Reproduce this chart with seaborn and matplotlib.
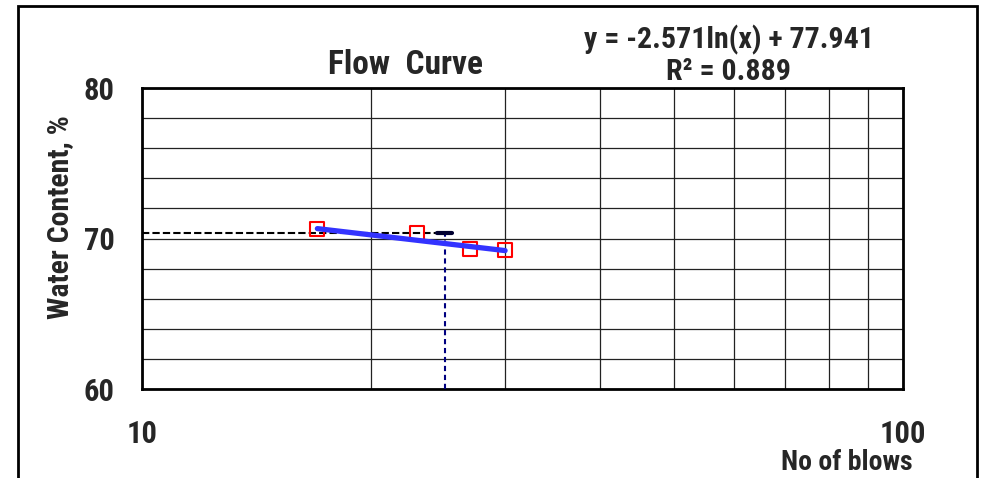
import matplotlib
matplotlib.use("Agg")
import matplotlib.pyplot as plt
from matplotlib.patches import Rectangle
from matplotlib.ticker import FixedLocator, NullFormatter
import numpy as np
import pandas as pd
import seaborn as sns
from matplotlib import font_manager

# ---- data ----
blows = [17, 23, 27, 30]
water_content = [70.63, 70.37, 69.30, 69.24]
fit_a = -2.571
fit_b = 77.941
fit_r2 = 0.889
ll_blows = 25
ll_water = 70.37
x_ticks = [10, 100]
y_ticks = [60, 70, 80]

sns.set_style("white")
names = {f.name for f in font_manager.fontManager.ttflist}
fam = [f for f in ["Liberation Sans Narrow", "Roboto Condensed", "Open Sans Condensed"] if f in names]
plt.rcParams['font.family'] = fam + ['Liberation Sans', 'DejaVu Sans']
plt.rcParams['font.weight'] = 'bold'

fig = plt.figure(figsize=(9.82, 4.78), dpi=100)
ax = fig.add_axes([142/982, 1-389/478, (903-142)/982, (389-88)/478])
ax.set_xscale('log')
ax.set_xlim(10, 100)
ax.set_ylim(60, 80)

# grid
ax.xaxis.set_minor_locator(FixedLocator([20, 30, 40, 50, 60, 70, 80, 90]))
ax.xaxis.set_minor_formatter(NullFormatter())
ax.yaxis.set_minor_locator(FixedLocator(list(range(62, 80, 2))))
ax.grid(True, which='both', color='#222222', linewidth=0.9)
ax.set_axisbelow(True)
ax.tick_params(which='minor', length=0)

# reference dashed lines
ax.plot([10, ll_blows], [ll_water, ll_water], ls=(0, (3.5, 1.5)), color='black', lw=1.5, zorder=3)
ax.plot([ll_blows, ll_blows], [60, ll_water], ls=(0, (2.5, 1.8)), color='#000080', lw=1.5, zorder=3)
ax.plot([ll_blows * 0.978, ll_blows * 1.022], [ll_water, ll_water], color='#000030', lw=3, zorder=3,
        solid_capstyle='round')

# points
df = pd.DataFrame({"blows": blows, "wc": water_content})
sns.scatterplot(data=df, x="blows", y="wc", marker='s', s=100, facecolor='none',
                edgecolor='red', linewidth=1.5, ax=ax, zorder=4)

# trendline
tx = np.array([min(blows), max(blows)])
ty = fit_a * np.log(tx) + fit_b
sns.lineplot(x=tx, y=ty, color='#3333FF', linewidth=3.8, ax=ax, zorder=5)

ax.set_xticks(x_ticks)
ax.set_xticklabels([str(v) for v in x_ticks], fontsize=22, fontweight='bold')
ax.set_yticks(y_ticks)
ax.set_yticklabels([str(v) for v in y_ticks], fontsize=22, fontweight='bold')
ax.tick_params(axis='x', which='major', length=6.5, width=1, pad=15, color='black', direction='out')
ax.tick_params(axis='y', which='major', length=6.5, width=1, pad=13, color='black', direction='out')
ax.set_xlabel("")
ax.set_ylabel("")
for s in ax.spines.values():
    s.set_visible(True)
    s.set_color('black')
    s.set_linewidth(2)

fig.text(405/982, 1-65/478, "Flow  Curve", ha='center', va='center', fontsize=24, fontweight='bold')
fig.text(729/982, 1-40/478, "y = -2.571ln(x) + 77.941", ha='center', va='center', fontsize=21.5, fontweight='bold')
fig.text(729/982, 1-72/478, "R² = 0.889", ha='center', va='center', fontsize=21.5, fontweight='bold')
fig.text(913/982, 1-462/478, "No of blows", ha='right', va='center', fontsize=20, fontweight='bold')
fig.text(60/982, 1-217/478, "Water Content, %", ha='center', va='center', rotation=90, fontsize=21.5, fontweight='bold')

fig.patches.append(Rectangle((18/982, -0.05), (977-18)/982, 1.05 - 6/478, transform=fig.transFigure,
                             fill=False, edgecolor='black', linewidth=2))

fig.savefig("out.png", dpi=100)
